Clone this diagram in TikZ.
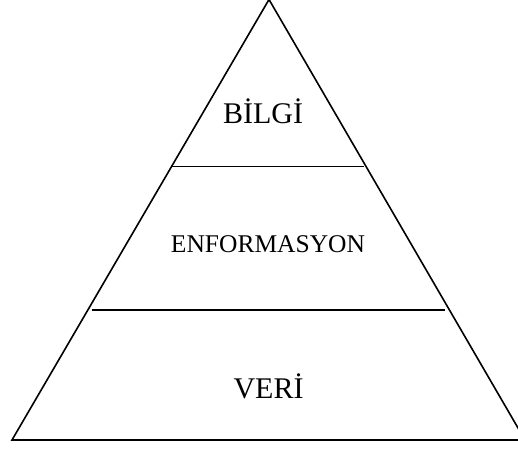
\documentclass[tikz,border=0pt]{standalone}
\usepackage{fontspec}
\setmainfont{Liberation Serif}
\begin{document}
\begin{tikzpicture}[x=1pt,y=-1pt,
  edge/.style={line width=1.6pt,line join=miter},
  lbl/.style={anchor=base,inner sep=0pt}]
\useasboundingbox (0,0) rectangle (518,450);
\clip (0,0) rectangle (518,450);
\coordinate (apex) at (269,-0.5);
\coordinate (bl) at (12,440);
\coordinate (br) at (525,440);
\draw[edge] (apex) -- (bl) -- (br) -- cycle;
\coordinate (u1) at (172,166.5);
\coordinate (u2) at (364,166.5);
\coordinate (m1) at (92,310);
\coordinate (m2) at (445,310);
\draw[edge] (u1) -- (u2);
\draw[edge] (m1) -- (m2);
\node[lbl,font=\fontsize{30}{32}\selectfont] (bilgi) at (263,123) {BİLGİ};
\node[lbl,font=\fontsize{25.5}{28}\selectfont] (enf) at (268,252) {ENFORMASYON};
\node[lbl,font=\fontsize{30}{32}\selectfont] (veri) at (268.5,398) {VERİ};
\end{tikzpicture}
\end{document}
